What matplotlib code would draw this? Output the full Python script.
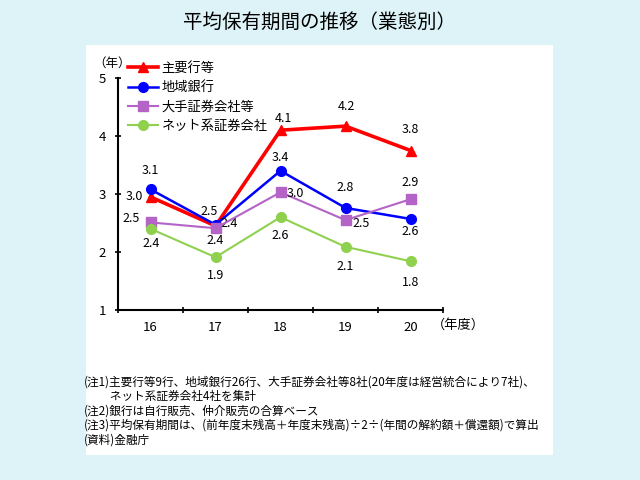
import numpy as np
import matplotlib
matplotlib.use('Agg')
import matplotlib.pyplot as plt
from matplotlib.patches import Rectangle

plt.rcParams['font.family'] = ['Noto Sans CJK JP', 'DejaVu Sans']

# 年度
years = [16, 17, 18, 19, 20]

# 平均保有期間（年）
shuyoko = [2.95, 2.45, 4.10, 4.17, 3.75]
chiiki = [3.08, 2.47, 3.40, 2.76, 2.57]
oote = [2.51, 2.41, 3.03, 2.55, 2.91]
net = [2.40, 1.91, 2.60, 2.09, 1.84]

# 図中の数値ラベル
shuyoko_lbl = ['3.0', '2.5', '4.1', '4.2', '3.8']
chiiki_lbl = ['3.1', '2.4', '3.4', '2.8', '2.6']
oote_lbl = ['2.5', '2.4', '3.0', '2.5', '2.9']
net_lbl = ['2.4', '1.9', '2.6', '2.1', '1.8']

names = ['主要行等', '地域銀行', '大手証券会社等', 'ネット系証券会社']

notes = ['(注1)主要行等9行、地域銀行26行、大手証券会社等8社(20年度は経営統合により7社)、',
         '　　 ネット系証券会社4社を集計',
         '(注2)銀行は自行販売、仲介販売の合算ベース',
         '(注3)平均保有期間は、(前年度末残高＋年度末残高)÷2÷(年間の解約額＋償還額)で算出',
         '(資料)金融庁']

fig = plt.figure(figsize=(6.4, 4.8), dpi=100)
fig.patch.set_facecolor('#ddf3f7')
fig.patches.append(Rectangle((86/640, 1-455/480), 467/640, 410/480,
                             transform=fig.transFigure, facecolor='white',
                             edgecolor='none', zorder=-1))

fig.text(0.5, 1-22/480, '平均保有期間の推移（業態別）', ha='center', va='center', fontsize=14)

ax = fig.add_axes([118/640, 1-310/480, 325/640, 232/480])
ax.set_facecolor('none')
ax.set_zorder(2)

series = [
    (shuyoko, shuyoko_lbl, '#ff0000', '^', 2.6, 7.5,
     [(-16, 0), (-6, 14), (3, 12), (1, 20), (0, 21)]),
    (chiiki, chiiki_lbl, '#0000ff', 'o', 1.8, 7,
     [(0, 19), (14, 1), (0, 13), (0, 20), (0, -13)]),
    (oote, oote_lbl, '#b463c6', 's', 1.5, 7,
     [(-19, 4), (0, -12), (15, -1), (16, -3), (0, 17)]),
    (net, net_lbl, '#8fd14f', 'o', 1.5, 7,
     [(1, -15), (0, -18), (0, -18), (0, -20), (0, -21)]),
]

for (vals, lbls, col, mk, lw, ms, offs), name in zip(series, names):
    ax.plot(years, vals, color=col, marker=mk, lw=lw, ms=ms, label=name, zorder=3)
    for x, y, t, (dx, dy) in zip(years, vals, lbls, offs):
        ax.annotate(t, (x, y), xytext=(dx * 0.72, dy * 0.72), textcoords='offset points',
                    ha='center', va='center', fontsize=9)

ax.set_xlim(15.5, 20.5)
ax.set_ylim(1, 5)
ax.set_xticks(years)
ax.set_xticklabels([str(y) for y in years])
ax.set_xticks(np.arange(15.5, 21, 1), minor=True)
ax.tick_params(axis='x', which='major', length=0, labelsize=9.5, pad=8)
ax.tick_params(axis='x', which='minor', length=4, width=1.2, direction='inout')
ax.set_yticks([1, 2, 3, 4, 5])
ax.tick_params(axis='y', length=5, width=1.2, direction='inout', labelsize=9.5, pad=6)
for s in ['top', 'right']:
    ax.spines[s].set_visible(False)
for s in ['left', 'bottom']:
    ax.spines[s].set_linewidth(1.5)

fig.text(112/640, 1-63/480, '（年）', ha='center', va='center', fontsize=9)
fig.text(458/640, 1-325/480, '（年度）', ha='center', va='center', fontsize=9.5)

ax.legend(loc='upper left', bbox_to_anchor=(128/640, 1-62/480), bbox_transform=fig.transFigure,
          frameon=False, fontsize=9.5, handlelength=2.3, handletextpad=0.25,
          labelspacing=0.48, borderpad=0, borderaxespad=0)

for i, line in enumerate(notes):
    fig.text(84/640, 1-(382 + i*14.5)/480, line, ha='left', va='center', fontsize=8.4)

fig.savefig('out.png', dpi=100, facecolor=fig.get_facecolor())
